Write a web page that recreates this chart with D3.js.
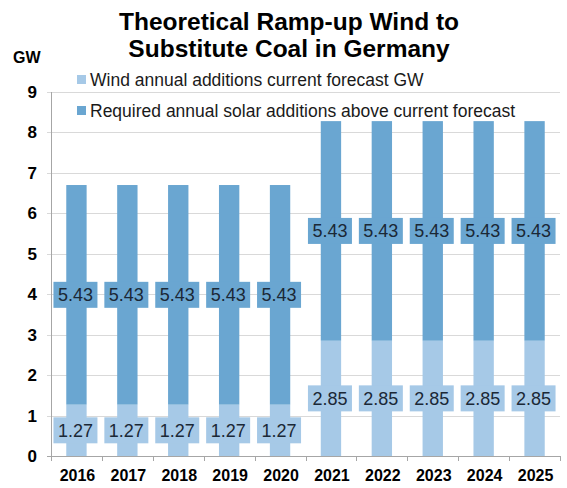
<!DOCTYPE html>
<html>
<head>
<meta charset="utf-8" />
<style>
    body {
        margin: 0;
        background: #fff;
        font-family: "Liberation Sans", Arial, sans-serif;
    }

    .grid line {
        stroke: #D9D9D9;
        shape-rendering: crispEdges;
    }

    .axis-line {
        stroke: #A6A6A6;
        shape-rendering: crispEdges;
    }
</style>
</head>
<body>
<svg width="567" height="488"></svg>
<script src="https://d3js.org/d3.v7.min.js"></script>
<script>
    // chart data
    var years = ["2016", "2017", "2018", "2019", "2020", "2021", "2022", "2023", "2024", "2025"];
    var windForecast = [1.27, 1.27, 1.27, 1.27, 1.27, 2.85, 2.85, 2.85, 2.85, 2.85];
    var requiredExtra = [5.43, 5.43, 5.43, 5.43, 5.43, 5.43, 5.43, 5.43, 5.43, 5.43];
    var yTicks = [0, 1, 2, 3, 4, 5, 6, 7, 8, 9];
    var seriesNames = ["Wind annual additions current forecast GW", "Required annual solar additions above current forecast"];
    var colors = ["#A6C9E7", "#6AA6D1"];

    var svg = d3.select("svg");
    var plot = { left: 51, right: 560, top: 92, bottom: 456 };

    var x = d3.scaleBand()
        .domain(years)
        .range([plot.left, plot.right])
        .padding(0);

    var y = d3.scaleLinear()
        .domain([0, 9])
        .range([plot.bottom, plot.top]);

    // gridlines + y tick labels
    var yAxis = d3.axisLeft(y)
        .tickValues(yTicks)
        .tickSize(-(plot.right - plot.left + 4))
        .tickPadding(10)
        .tickFormat(d3.format("d"));

    var gy = svg.append("g")
        .attr("class", "grid")
        .attr("transform", "translate(" + (plot.left - 4) + ",0)")
        .call(yAxis);
    gy.select(".domain").remove();
    gy.selectAll("text")
        .style("font-size", "17px")
        .style("font-weight", "bold")
        .style("fill", "#000");
    gy.selectAll(".tick")
        .filter(function (d) { return d === 0; })
        .select("line")
        .style("stroke", "#A6A6A6");

    // vertical axis line
    svg.append("line")
        .attr("class", "axis-line")
        .attr("x1", plot.left + 0.5).attr("x2", plot.left + 0.5)
        .attr("y1", y(9)).attr("y2", y(0));

    // stack the two series
    var rows = years.map(function (yr, i) {
        return { year: yr, wind: windForecast[i], extra: requiredExtra[i] };
    });
    var stack = d3.stack().keys(["wind", "extra"]);
    var layers = stack(rows);

    var barW = x.bandwidth() * 0.4;

    var layerG = svg.selectAll(".layer")
        .data(layers)
        .enter().append("g")
        .attr("class", "layer")
        .style("fill", function (d, i) { return colors[i]; });

    layerG.selectAll("rect")
        .data(function (d) { return d; })
        .enter().append("rect")
        .attr("x", function (d) { return x(d.data.year) + x.bandwidth() / 2 - barW / 2; })
        .attr("width", barW)
        .attr("y", function (d) { return y(d[1]); })
        .attr("height", function (d) { return y(d[0]) - y(d[1]); });

    // data labels with boxes
    var labelG = layerG.selectAll(".lbl")
        .data(function (d) { return d; })
        .enter().append("g")
        .attr("class", "lbl")
        .attr("transform", function (d) {
            return "translate(" + (x(d.data.year) + x.bandwidth() / 2 - 1) + "," + y((d[0] + d[1]) / 2) + ")";
        });

    labelG.append("rect")
        .attr("x", -22).attr("y", -13)
        .attr("width", 44).attr("height", 26);

    labelG.append("text")
        .attr("text-anchor", "middle")
        .attr("dy", "0.35em")
        .style("font-size", "18px")
        .style("fill", "#1B2836")
        .text(function (d) { return d3.format(".2f")(d[1] - d[0]); });

    // x axis
    svg.append("line")
        .attr("class", "axis-line")
        .attr("x1", plot.left).attr("x2", plot.right + 1)
        .attr("y1", plot.bottom + 0.5).attr("y2", plot.bottom + 0.5);

    var bounds = years.map(function (yr) { return x(yr); }).concat([plot.right]);
    svg.selectAll(".xtick")
        .data(bounds)
        .enter().append("line")
        .attr("class", "axis-line")
        .attr("x1", function (d) { return Math.round(d) + 0.5; })
        .attr("x2", function (d) { return Math.round(d) + 0.5; })
        .attr("y1", plot.bottom).attr("y2", plot.bottom + 5);

    svg.selectAll(".xlabel")
        .data(years)
        .enter().append("text")
        .attr("x", function (d) { return x(d) + x.bandwidth() / 2 + 1; })
        .attr("y", 481)
        .attr("text-anchor", "middle")
        .style("font-size", "16px")
        .style("font-weight", "bold")
        .text(function (d) { return d; });

    // title
    svg.append("text")
        .attr("x", 289).attr("y", 29.5)
        .attr("text-anchor", "middle")
        .style("font-size", "24.5px")
        .style("font-weight", "bold")
        .text("Theoretical Ramp-up Wind to");
    svg.append("text")
        .attr("x", 289).attr("y", 57)
        .attr("text-anchor", "middle")
        .style("font-size", "24.5px")
        .style("font-weight", "bold")
        .text("Substitute Coal in Germany");

    // unit label
    svg.append("text")
        .attr("x", 13).attr("y", 63)
        .style("font-size", "16px")
        .style("font-weight", "bold")
        .text("GW");

    // legend
    var legend = svg.selectAll(".legend")
        .data(seriesNames)
        .enter().append("g")
        .attr("class", "legend")
        .attr("transform", function (d, i) { return "translate(77," + (75 + i * 31) + ")"; });

    legend.append("rect")
        .attr("width", 9).attr("height", 9)
        .style("fill", function (d, i) { return colors[i]; });

    legend.append("text")
        .attr("x", 13).attr("y", 11)
        .style("font-size", "17.5px")
        .style("fill", "#1a1a1a")
        .text(function (d) { return d; });
</script>
</body>
</html>
